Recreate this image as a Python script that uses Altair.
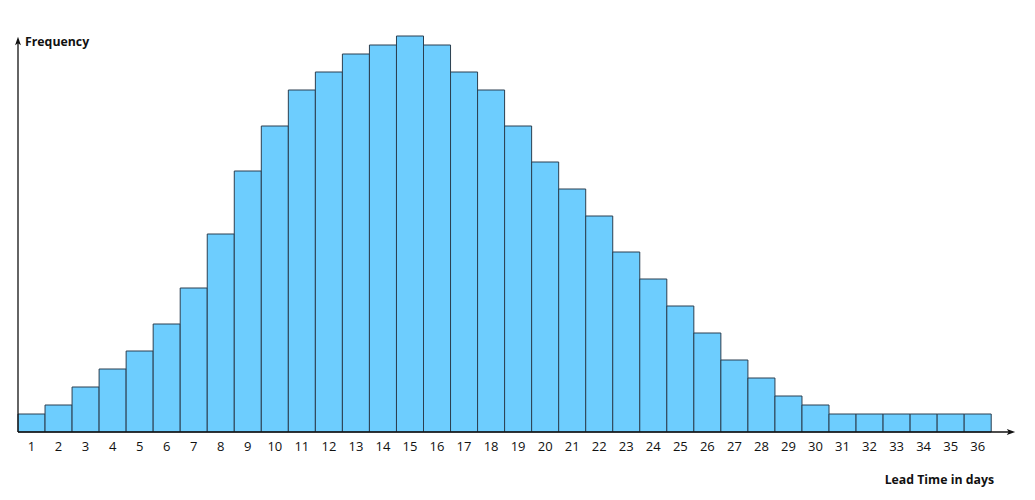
import altair as alt
import pandas as pd

days = list(range(1, 37))
freq = [2, 3, 5, 7, 9, 12, 16, 22, 29, 34, 38, 40, 42, 43, 44, 43, 40, 38, 34, 30,
        27, 24, 20, 17, 14, 11, 8, 6, 4, 3, 2, 2, 2, 2, 2, 2]
x_title = "Lead Time in days"
y_title = "Frequency"

df = pd.DataFrame({"day": days, "freq": freq})
df["x0"] = df["day"] - 1
df["xc"] = df["day"] - 0.5
df["zero"] = 0
df["label"] = df["day"].astype(str)

W, H = 997, 396
xs = alt.Scale(domain=[0, 36.88], nice=False, zero=False)
ys = alt.Scale(domain=[0, 44], nice=False)

base = alt.Chart(df)

bars = base.mark_rect(fill="#6dcdfe", stroke="#2b3f50", strokeWidth=1, opacity=1).encode(
    x=alt.X("x0:Q", scale=xs, axis=None),
    x2="day:Q",
    y=alt.Y("freq:Q", scale=ys, axis=None),
    y2="zero:Q",
)

labels = base.mark_text(font="Open Sans", fontSize=13, color="#111111", baseline="middle").encode(
    x=alt.X("xc:Q", scale=xs, axis=None),
    y=alt.value(411),
    text="label:N",
)

axis_df = pd.DataFrame({"a": [0]})
xaxis = alt.Chart(axis_df).mark_rule(color="#111111", strokeWidth=1.3).encode(
    x=alt.value(0), x2=alt.value(994), y=alt.value(H)
)
yaxis = alt.Chart(axis_df).mark_rule(color="#111111", strokeWidth=1.3).encode(
    x=alt.value(0), y=alt.value(4), y2=alt.value(H)
)
arrow_r = alt.Chart(axis_df).mark_point(
    shape="M -1 -0.7 L 1 0 L -1 0.7 L -0.55 0 Z", filled=True, color="#111111", size=70, opacity=1
).encode(x=alt.value(993), y=alt.value(H))
arrow_u = alt.Chart(axis_df).mark_point(
    shape="M -0.7 1 L 0 -1 L 0.7 1 L 0 0.55 Z", filled=True, color="#111111", size=70, opacity=1
).encode(x=alt.value(0), y=alt.value(5))

ytitle = alt.Chart(axis_df).mark_text(
    font="Open Sans", fontSize=12.3, fontWeight="bold", color="#111111", align="left", baseline="middle"
).encode(x=alt.value(7), y=alt.value(6), text=alt.value(y_title))
xtitle = alt.Chart(axis_df).mark_text(
    font="Open Sans", fontSize=12.3, fontWeight="bold", color="#111111", align="right", baseline="middle"
).encode(x=alt.value(976), y=alt.value(444), text=alt.value(x_title))

chart = alt.layer(bars, labels, xaxis, yaxis, arrow_r, arrow_u, ytitle, xtitle).properties(
    width=W, height=H,
    autosize=alt.AutoSizeParams(type="none"),
    padding={"left": 10, "top": 28, "right": 10, "bottom": 60},
    background="white",
).configure_view(stroke=None)

chart.save("out.html", embed_options={"renderer": "svg", "actions": False})
